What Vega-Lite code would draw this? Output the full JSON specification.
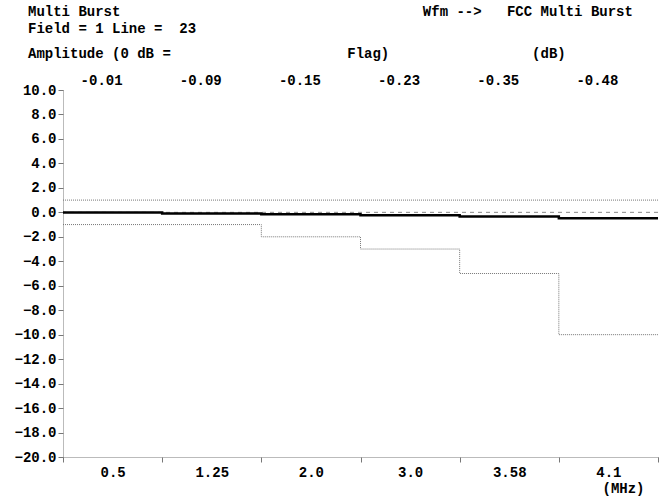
{
  "$schema": "https://vega.github.io/schema/vega-lite/v6.json",
  "width": 595,
  "height": 367,
  "autosize": "none",
  "padding": {"left": 63, "top": 90, "right": 11, "bottom": 40},
  "background": "white",
  "title": {
    "text": ["Multi Burst\u00a0\u00a0\u00a0\u00a0\u00a0\u00a0\u00a0\u00a0\u00a0\u00a0\u00a0\u00a0\u00a0\u00a0\u00a0\u00a0\u00a0\u00a0\u00a0\u00a0\u00a0\u00a0\u00a0\u00a0\u00a0\u00a0\u00a0\u00a0\u00a0\u00a0\u00a0\u00a0\u00a0\u00a0\u00a0\u00a0Wfm -->\u00a0\u00a0\u00a0FCC Multi Burst", "Field = 1 Line =\u00a0\u00a023"],
    "subtitle": "Amplitude (0 dB =\u00a0\u00a0\u00a0\u00a0\u00a0\u00a0\u00a0\u00a0\u00a0\u00a0\u00a0\u00a0\u00a0\u00a0\u00a0\u00a0\u00a0\u00a0\u00a0\u00a0\u00a0Flag)\u00a0\u00a0\u00a0\u00a0\u00a0\u00a0\u00a0\u00a0\u00a0\u00a0\u00a0\u00a0\u00a0\u00a0\u00a0\u00a0\u00a0(dB)",
    "anchor": "start",
    "frame": "group",
    "dx": -35,
    "offset": 12,
    "font": "Liberation Mono",
    "fontSize": 14,
    "fontWeight": "bold",
    "color": "black",
    "lineHeight": 17.5,
    "subtitleFont": "Liberation Mono",
    "subtitleFontSize": 14,
    "subtitleFontWeight": "bold",
    "subtitleColor": "black",
    "subtitlePadding": 11
  },
  "config": {
    "view": {"stroke": null},
    "axis": {
      "labelFont": "Liberation Mono",
      "labelFontSize": 14,
      "labelFontWeight": "bold",
      "labelColor": "black",
      "labelOverlap": false,
      "labelFlush": false,
      "labelBound": false,
      "titleFont": "Liberation Mono",
      "titleFontSize": 14,
      "titleFontWeight": "bold",
      "titleColor": "black",
      "grid": false,
      "domainColor": "#777",
      "domainDash": [1, 1],
      "domainWidth": 1,
      "tickColor": "#777",
      "tickSize": 5
    }
  },
  "datasets": {
    "bursts": [
      {"freq": "0.5", "measured": -0.01, "lower": -1, "start": 0, "end": 1},
      {"freq": "1.25", "measured": -0.09, "lower": -1, "start": 1, "end": 2},
      {"freq": "2.0", "measured": -0.15, "lower": -2, "start": 2, "end": 3},
      {"freq": "3.0", "measured": -0.23, "lower": -3, "start": 3, "end": 4},
      {"freq": "3.58", "measured": -0.35, "lower": -5, "start": 4, "end": 5},
      {"freq": "4.1", "measured": -0.48, "lower": -10, "start": 5, "end": 6}
    ],
    "references": [
      {"name": "upper", "level": 1},
      {"name": "zero", "level": 0}
    ]
  },
  "layer": [
    {
      "data": {"name": "bursts"},
      "mark": {"type": "rule", "opacity": 0},
      "encoding": {
        "x": {
          "field": "freq", "type": "ordinal", "sort": null,
          "scale": {"paddingInner": 0, "paddingOuter": 0},
          "axis": {
            "orient": "bottom", "tickBand": "extent", "labelPadding": 3, "labelAngle": 0,
            "title": "(MHz)", "titleX": 581, "titleY": 31, "titleAlign": "right", "titleBaseline": "middle"
          }
        },
        "y": {
          "datum": 0, "type": "quantitative",
          "scale": {"domain": [-20, 10], "nice": false, "zero": false},
          "axis": {
            "values": [-20, -18, -16, -14, -12, -10, -8, -6, -4, -2, 0, 2, 4, 6, 8, 10],
            "tickCount": 16, "labelOverlap": false,
            "format": ".1f", "labelPadding": 2, "title": null
          }
        }
      }
    },
    {
      "data": {"name": "bursts"},
      "mark": {"type": "rule", "opacity": 0},
      "encoding": {
        "x": {
          "field": "measured", "type": "nominal", "sort": null,
          "scale": {"paddingInner": 0, "paddingOuter": 0},
          "axis": {"orient": "top", "ticks": false, "domain": false, "labelOffset": -11, "labelPadding": 3, "labelAngle": 0, "title": null}
        }
      }
    },
    {
      "data": {"name": "references"},
      "transform": [{"filter": "datum.name === 'upper'"}],
      "mark": {"type": "rule", "color": "#777", "strokeDash": [1, 1], "strokeWidth": 1},
      "encoding": {"y": {"field": "level", "type": "quantitative", "axis": {
            "values": [-20, -18, -16, -14, -12, -10, -8, -6, -4, -2, 0, 2, 4, 6, 8, 10],
            "tickCount": 16, "labelOverlap": false,
            "format": ".1f", "labelPadding": 2, "title": null
          }}}
    },
    {
      "data": {"name": "references"},
      "transform": [{"filter": "datum.name === 'zero'"}],
      "mark": {"type": "rule", "color": "#888", "strokeDash": [4, 4], "strokeWidth": 1},
      "encoding": {"y": {"field": "level", "type": "quantitative", "axis": {
            "values": [-20, -18, -16, -14, -12, -10, -8, -6, -4, -2, 0, 2, 4, 6, 8, 10],
            "tickCount": 16, "labelOverlap": false,
            "format": ".1f", "labelPadding": 2, "title": null
          }}}
    },
    {
      "data": {"name": "bursts"},
      "transform": [{"fold": ["start", "end"], "as": ["edge", "pos"]}],
      "mark": {"type": "line", "color": "#777", "strokeDash": [1, 1], "strokeWidth": 1},
      "encoding": {
        "x": {"field": "pos", "type": "quantitative", "scale": {"domain": [0, 6], "nice": false, "zero": false}, "axis": null},
        "y": {"field": "lower", "type": "quantitative", "axis": {
            "values": [-20, -18, -16, -14, -12, -10, -8, -6, -4, -2, 0, 2, 4, 6, 8, 10],
            "tickCount": 16, "labelOverlap": false,
            "format": ".1f", "labelPadding": 2, "title": null
          }},
        "order": [{"field": "pos", "type": "quantitative"}, {"field": "lower", "type": "quantitative", "sort": "descending"}]
      }
    },
    {
      "data": {"name": "bursts"},
      "transform": [{"fold": ["start", "end"], "as": ["edge", "pos"]}],
      "mark": {"type": "line", "color": "black", "strokeWidth": 2.5},
      "encoding": {
        "x": {"field": "pos", "type": "quantitative", "scale": {"domain": [0, 6], "nice": false, "zero": false}, "axis": null},
        "y": {"field": "measured", "type": "quantitative", "axis": {
            "values": [-20, -18, -16, -14, -12, -10, -8, -6, -4, -2, 0, 2, 4, 6, 8, 10],
            "tickCount": 16, "labelOverlap": false,
            "format": ".1f", "labelPadding": 2, "title": null
          }},
        "order": [{"field": "pos", "type": "quantitative"}, {"field": "measured", "type": "quantitative", "sort": "descending"}]
      }
    }
  ],
  "resolve": {"scale": {"x": "independent"}, "axis": {"x": "independent"}}
}
